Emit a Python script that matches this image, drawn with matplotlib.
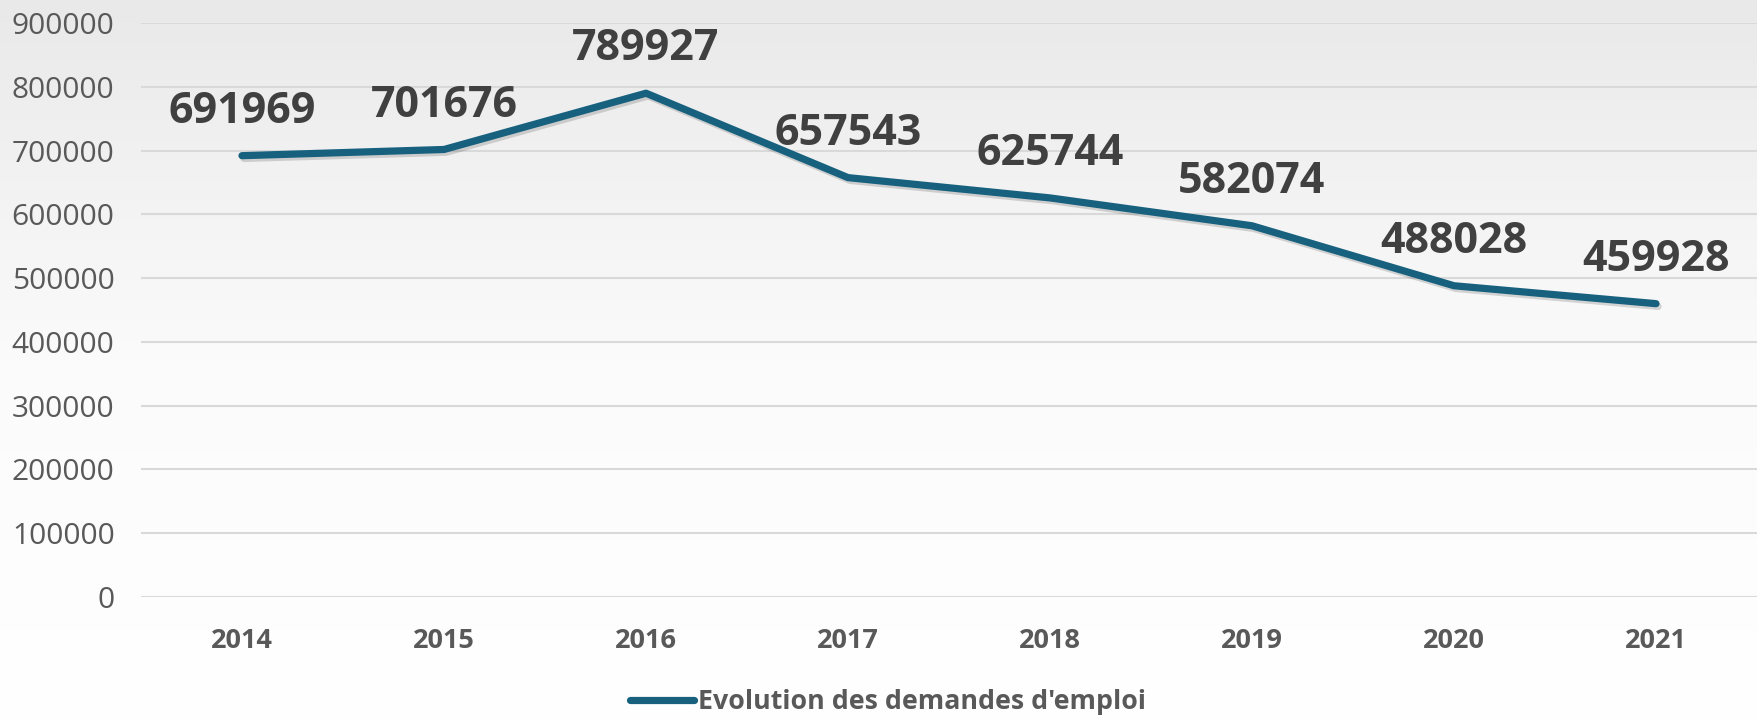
import matplotlib
matplotlib.use("Agg")
import matplotlib.pyplot as plt
import matplotlib.patheffects as pe
from matplotlib.colors import LinearSegmentedColormap
import numpy as np

years = ["2014", "2015", "2016", "2017", "2018", "2019", "2020", "2021"]
values = [691969, 701676, 789927, 657543, 625744, 582074, 488028, 459928]
series_name = "Evolution des demandes d'emploi"
yticks = [0, 100000, 200000, 300000, 400000, 500000, 600000, 700000, 800000, 900000]

plt.rcParams['font.family'] = ['Open Sans', 'DejaVu Sans']

W, H = 1758, 721
fig = plt.figure(figsize=(W / 100, H / 100), dpi=100)

# background gradient
bg = fig.add_axes([0, 0, 1, 1], zorder=-10)
grad = np.linspace(0, 1, 256).reshape(-1, 1)
cmap = LinearSegmentedColormap.from_list("bg", ["#ffffff", "#fbfbfb", "#e9e9e9"])
bg.imshow(grad, aspect="auto", cmap=cmap, origin="lower", extent=[0, 1, 0, 1])
bg.set_axis_off()

left, right = 141, 1757
top, bottom = 23, 597
ax = fig.add_axes([left / W, 1 - bottom / H, (right - left) / W, (bottom - top) / H])
ax.patch.set_alpha(0)

x = np.arange(len(years))
line, = ax.plot(x, values, color="#17617f", lw=5.2, solid_capstyle="round",
                solid_joinstyle="round", label=series_name, zorder=3,
                path_effects=[pe.SimpleLineShadow(offset=(1.5, -2), shadow_color="#000000", alpha=0.15),
                              pe.Normal()])

for xi, v in zip(x, values):
    ax.annotate(f"{v}", (xi, v), xytext=(0, 32), textcoords="offset points",
                ha="center", va="center", fontsize=31, fontweight="bold", color="#404040", zorder=4)

ax.set_xlim(-0.5, len(years) - 0.5)
ax.set_ylim(0, 900000)
ax.set_yticks(yticks)
ax.set_yticklabels([str(t) for t in yticks], fontsize=21.5, color="#595959")
ax.set_xticks(x)
ax.set_xticklabels(years, fontsize=19.5, fontweight="bold", color="#595959")
ax.tick_params(axis="both", length=0)
ax.tick_params(axis="y", pad=19)
ax.tick_params(axis="x", pad=22)
ax.grid(axis="y", color="#d9d9d9", lw=1.5, zorder=0)
for s in ax.spines.values():
    s.set_visible(False)

leg = fig.legend(handles=[line], labels=[series_name], loc="center",
                 bbox_to_anchor=(888 / W, 1 - 702 / H), frameon=False,
                 prop={"size": 19.3, "weight": "bold"}, handlelength=2.4, handletextpad=0.15)
for t in leg.get_texts():
    t.set_color("#595959")
leg.get_lines()[0].set_path_effects([pe.Normal()])

fig.savefig("out.png", dpi=100)
